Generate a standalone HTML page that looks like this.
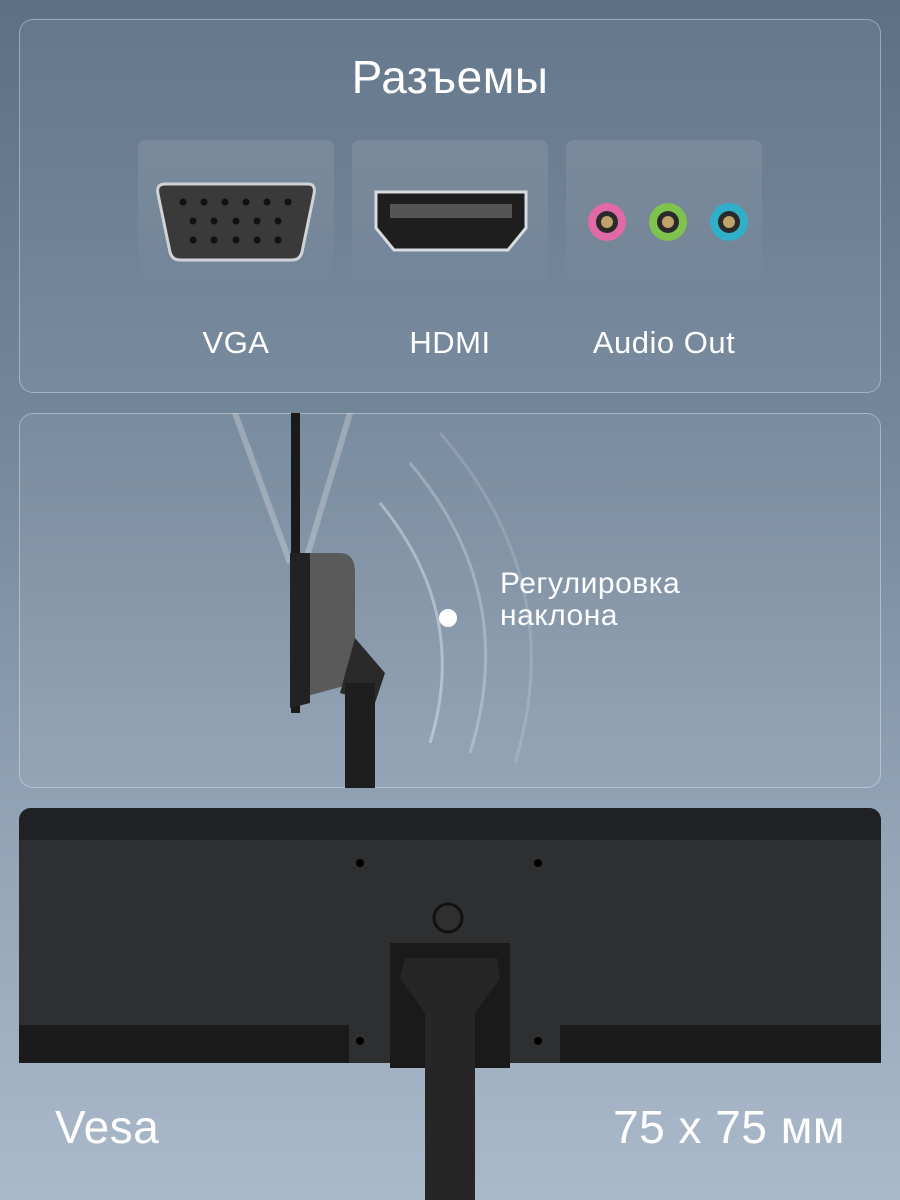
<!DOCTYPE html>
<html style="width:900px;height:1200px;overflow:hidden"><head><meta charset="utf-8"><style>
*{margin:0;padding:0;box-sizing:border-box}
body{width:900px;height:1200px;overflow:hidden;position:relative;font-family:"Liberation Sans",sans-serif;
background:linear-gradient(180deg,#5d7085 0%,#73869a 35%,#93a4b7 70%,#aab9ca 100%)}
.panel{position:absolute;left:19px;width:862px;border:1.5px solid rgba(255,255,255,.35);border-radius:14px;background:rgba(255,255,255,.05)}
.tile{position:absolute;top:140px;width:196px;height:150px;border-radius:8px;background:linear-gradient(180deg,rgba(255,255,255,.1),rgba(255,255,255,0))}
.lbl{position:absolute;top:325px;color:#fff;font-size:31px;text-align:center;letter-spacing:.5px}
.t{position:absolute;color:#fff;letter-spacing:.5px}
</style></head><body>
<div class="panel" style="top:19px;height:374px"></div>
<div class="t" style="left:0;width:900px;top:50px;text-align:center;font-size:46px">Разъемы</div>
<div class="tile" style="left:138px"></div>
<div class="tile" style="left:352px"></div>
<div class="tile" style="left:566px"></div>
<svg style="position:absolute;left:0;top:0" width="900" height="400">
<path d="M165 184 H308 Q316 184 314 194 L302 252 Q300 260 292 260 H180 Q172 260 170 252 L158 194 Q156 184 165 184Z" fill="#3a3a3a" stroke="#cfd3d8" stroke-width="3"/>
<g fill="#111">
<circle cx="183" cy="202" r="3.5"/><circle cx="204" cy="202" r="3.5"/><circle cx="225" cy="202" r="3.5"/><circle cx="246" cy="202" r="3.5"/><circle cx="267" cy="202" r="3.5"/><circle cx="288" cy="202" r="3.5"/>
<circle cx="193" cy="221" r="3.5"/><circle cx="214" cy="221" r="3.5"/><circle cx="236" cy="221" r="3.5"/><circle cx="257" cy="221" r="3.5"/><circle cx="278" cy="221" r="3.5"/>
<circle cx="193" cy="240" r="3.5"/><circle cx="214" cy="240" r="3.5"/><circle cx="236" cy="240" r="3.5"/><circle cx="257" cy="240" r="3.5"/><circle cx="278" cy="240" r="3.5"/>
</g>
<path d="M376 192 H526 V228 L508 250 H394 L376 228Z" fill="#1e1e1e" stroke="#d8dbe0" stroke-width="3"/>
<rect x="390" y="204" width="122" height="14" fill="#555"/>
<circle cx="607" cy="222" r="19" fill="#e06aa8"/><circle cx="607" cy="222" r="11" fill="#2a2a2a"/><circle cx="607" cy="222" r="6" fill="#bfa36a"/>
<circle cx="668" cy="222" r="19" fill="#7fc24d"/><circle cx="668" cy="222" r="11" fill="#2a2a2a"/><circle cx="668" cy="222" r="6" fill="#bfa36a"/>
<circle cx="729" cy="222" r="19" fill="#2fb0c8"/><circle cx="729" cy="222" r="11" fill="#2a2a2a"/><circle cx="729" cy="222" r="6" fill="#bfa36a"/>
</svg>
<div class="lbl" style="left:138px;width:196px">VGA</div>
<div class="lbl" style="left:352px;width:196px">HDMI</div>
<div class="lbl" style="left:566px;width:196px">Audio Out</div>

<div class="panel" style="top:413px;height:375px"></div>
<svg style="position:absolute;left:0;top:413px" width="900" height="380">
<path d="M235 0 L290 150" stroke="rgba(255,255,255,.25)" stroke-width="6"/>
<path d="M350 0 L305 150" stroke="rgba(255,255,255,.25)" stroke-width="6"/>
<path d="M380 90 Q470 200 430 330" stroke="rgba(255,255,255,.35)" stroke-width="3" fill="none"/>
<path d="M410 50 Q520 180 470 340" stroke="rgba(255,255,255,.25)" stroke-width="3" fill="none"/>
<path d="M440 20 Q570 170 515 350" stroke="rgba(255,255,255,.15)" stroke-width="3" fill="none"/>
<rect x="291" y="0" width="9" height="300" fill="#1a1a1a"/>
<path d="M295 140 L340 140 Q355 140 355 160 L355 270 L300 285Z" fill="#5a5a5a"/>
<path d="M290 140 H310 V290 L290 295Z" fill="#222"/>
<path d="M355 225 L385 260 L375 290 L340 280Z" fill="#2a2a2a"/>
<rect x="345" y="270" width="30" height="105" fill="#1e1e1e"/>
<circle cx="448" cy="205" r="9" fill="#fff"/>
</svg>
<div class="t" style="left:500px;top:568px;font-size:30px;line-height:32px">Регулировка<br>наклона</div>

<div style="position:absolute;left:19px;top:808px;width:862px;height:255px;background:#2e2f31;border-radius:12px 12px 0 0"></div>
<div style="position:absolute;left:19px;top:808px;width:862px;height:32px;background:#202122;border-radius:12px 12px 0 0"></div>
<div style="position:absolute;left:19px;top:1025px;width:330px;height:38px;background:#1b1b1c"></div>
<div style="position:absolute;left:560px;top:1025px;width:321px;height:38px;background:#1b1b1c"></div>
<svg style="position:absolute;left:0;top:808px" width="900" height="392">
<circle cx="360" cy="55" r="4" fill="#000"/><circle cx="538" cy="55" r="4" fill="#000"/>
<circle cx="360" cy="233" r="4" fill="#000"/><circle cx="538" cy="233" r="4" fill="#000"/>
<circle cx="448" cy="110" r="14" fill="none" stroke="#111" stroke-width="3"/>
<rect x="390" y="135" width="120" height="125" fill="#1a1a1a"/>
<path d="M405 150 H497 L500 170 L475 205 V392 H425 V205 L400 170Z" fill="#262626"/>
</svg>
<div class="t" style="left:55px;top:1100px;font-size:46px">Vesa</div>
<div class="t" style="right:55px;top:1100px;font-size:46px">75 x 75 мм</div>
</body></html>
